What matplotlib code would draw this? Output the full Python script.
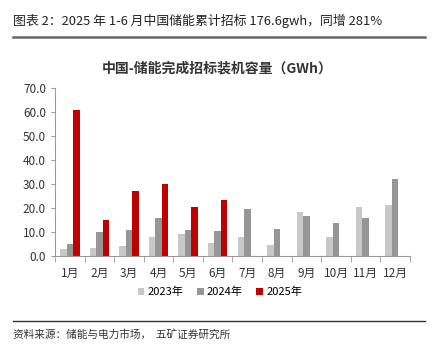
import matplotlib.pyplot as plt
import numpy as np

plt.rcParams["font.family"] = ["Noto Sans CJK SC", "DejaVu Sans"]

months = [f"{i}月" for i in range(1, 13)]
v2023 = [2.8, 3.2, 4.2, 7.8, 9.3, 5.3, 7.8, 4.7, 18.3, 7.8, 20.4, 21.3]
v2024 = [5.2, 9.8, 10.7, 15.8, 10.7, 10.3, 19.4, 11.2, 16.5, 13.8, 15.8, 32.1]
v2025 = [60.8, 14.8, 26.9, 29.8, 20.4, 23.4]
yticks = np.arange(0, 71, 10)

fig = plt.figure(figsize=(4.39, 3.55), dpi=100)
ax = fig.add_axes([55 / 439, 1 - 256 / 355, 355 / 439, 168 / 355])

x = np.arange(len(months))
w = 0.22
ax.bar(x - w, v2023, w, color="#c8c8c8", label="2023年")
ax.bar(x, v2024, w, color="#969696", label="2024年")
ax.bar(x[:len(v2025)] + w, v2025, w, color="#c00000", label="2025年")

ax.set_xlim(-0.5, 11.5)
ax.set_ylim(0, 70)
ax.set_yticks(yticks)
ax.set_yticklabels([f"{t:.1f}" for t in yticks])
ax.set_xticks(x)
ax.set_xticklabels(months)
ax.set_xticks(np.arange(-0.5, 12, 1), minor=True)
ax.tick_params(axis="x", which="major", length=0, pad=8)
ax.tick_params(axis="x", which="minor", length=4, color="#999999")
ax.tick_params(axis="y", length=3, color="#999999")
ax.tick_params(labelsize=8.5, labelcolor="#333333")
for s in ["top", "right"]:
    ax.spines[s].set_visible(False)
for s in ["left", "bottom"]:
    ax.spines[s].set_color("#999999")

ax.legend(loc="center", bbox_to_anchor=(220 / 439, 1 - 292 / 355),
          bbox_transform=fig.transFigure, ncol=3, frameon=False,
          fontsize=8, handlelength=0.6, handleheight=0.6,
          handletextpad=0.3, columnspacing=1.2)

fig.text(217 / 439, 1 - 68 / 355, "中国-储能完成招标装机容量（GWh）",
         ha="center", va="center", fontsize=10, fontweight="bold", color="#333333")
fig.text(13 / 439, 1 - 21 / 355, "图表 2：2025 年 1-6 月中国储能累计招标 176.6gwh，同增 281%",
         ha="left", va="center", fontsize=9.3, color="#222222")
fig.add_artist(plt.Line2D([13 / 439, 425 / 439], [1 - 37 / 355] * 2,
                          color="#666666", lw=1.8))
fig.add_artist(plt.Line2D([13 / 439, 425 / 439], [1 - 321 / 355] * 2,
                          color="#333333", lw=1.0))
fig.text(13 / 439, 1 - 334 / 355, "资料来源：储能与电力市场，  五矿证券研究所",
         ha="left", va="center", fontsize=7.7, color="#333333")

fig.savefig("out.png", dpi=100)
